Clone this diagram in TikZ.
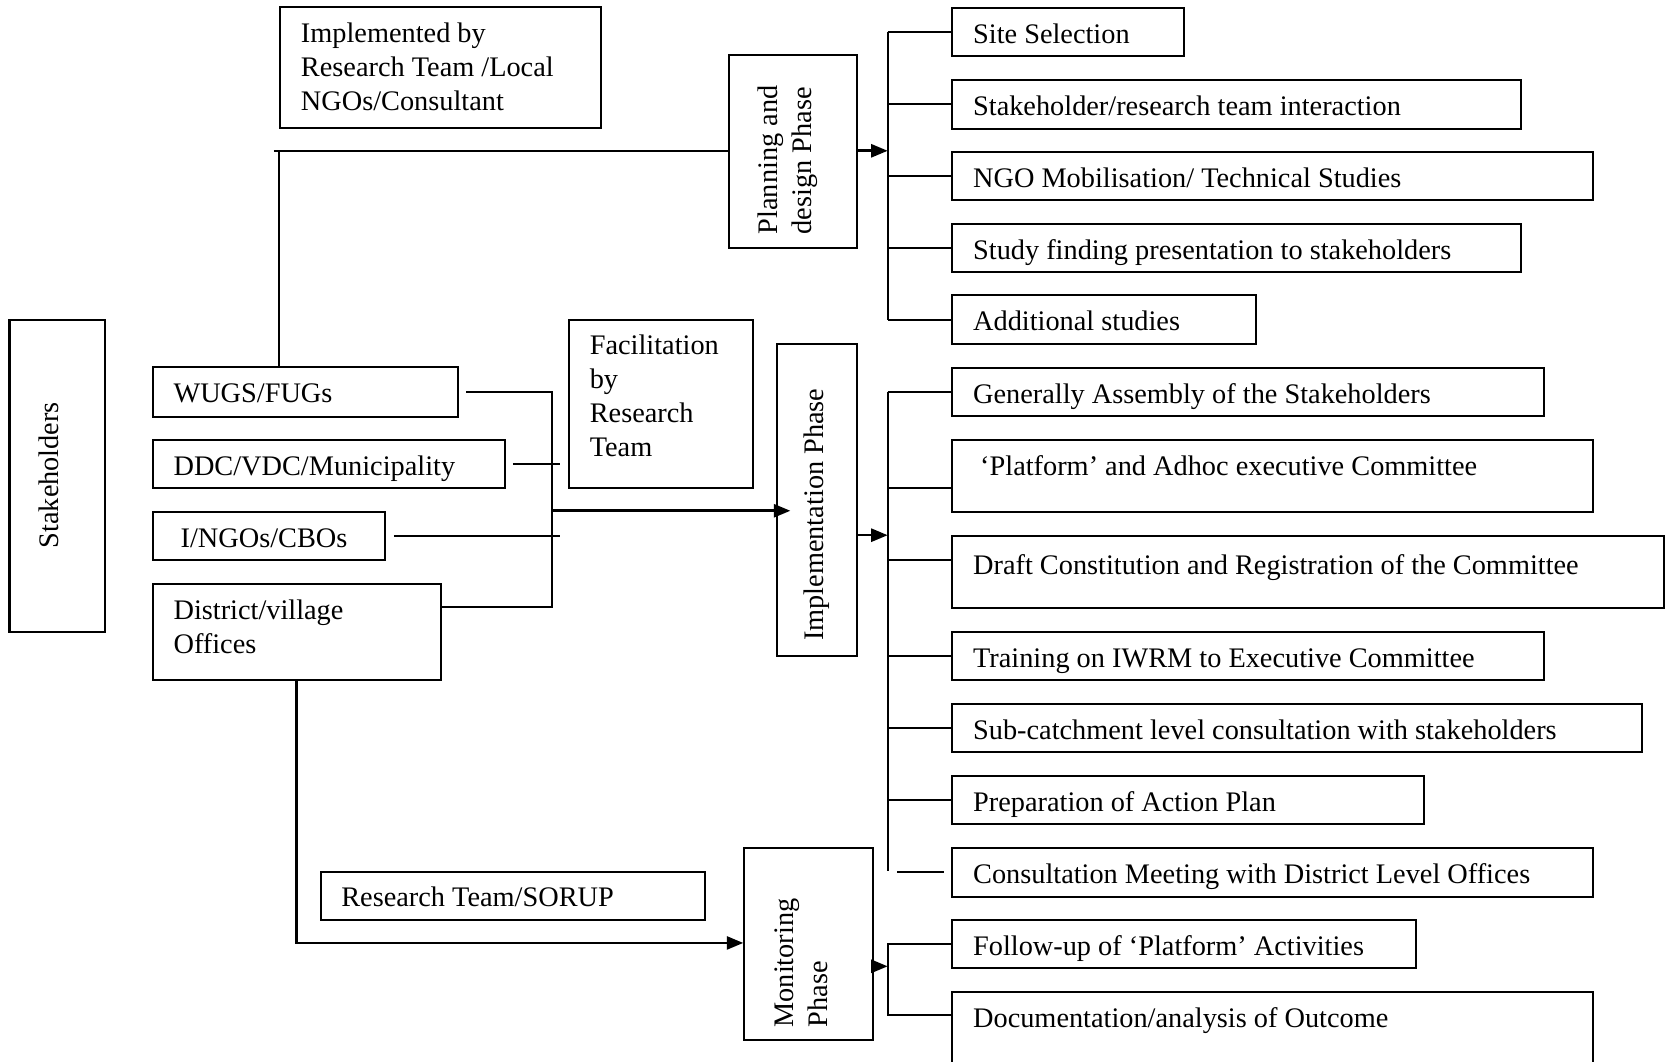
\documentclass[tikz,border=0pt]{standalone}
\usepackage{fontspec}
\setmainfont{Liberation Serif}
\usetikzlibrary{arrows.meta}
\newcommand\tf{\fontsize{12}{14.4}\selectfont}
\newcommand\mybox[5]{%
  \pgfmathsetmacro\bw{(#4-#2)*0.45}%
  \pgfmathsetmacro\bh{(#5-#3)*0.45}%
  \node[box, minimum width=\bw pt, minimum height=\bh pt] (#1) at (#2,#3) {};}
\newcommand\boxtext[3][0]{%
  \pgfmathsetmacro\dy{-(11.6+#1)*0.45}%
  \node[txt] (#2-t) at ([xshift=9pt, yshift=\dy pt]#2.north west) {#3};}
\begin{document}
\begin{tikzpicture}[x=0.45pt,y=-0.45pt,
  box/.style={draw, line width=0.85pt, inner sep=0pt, anchor=north west},
  txt/.style={anchor=north west, inner sep=0pt, align=left, font=\tf},
  vtxt/.style={rotate=90, inner sep=0pt, align=left, font=\tf},
  line/.style={line width=0.85pt},
  arr/.style={line width=1.1pt, -{Triangle[length=7pt,width=5.5pt]}}]
\useasboundingbox (0,0) rectangle (1568,1000);

% ---------- left column ----------
\mybox{impl-by}{263}{6}{565}{120}
\boxtext{impl-by}{\strut Implemented by\\\strut Research Team /Local\\\strut NGOs/Consultant}
\mybox{stk}{8}{300}{98}{594}
\node[vtxt] (stk-t) at (46,447.5) {Stakeholders};
\mybox{wugs}{143}{345}{430}{391.5}
\boxtext{wugs}{\strut WUGS/FUGs}
\mybox{ddc}{143}{413}{475}{458.6}
\boxtext{ddc}{\strut DDC/VDC/Municipality}
\mybox{ingo}{143}{481}{362}{526.7}
\boxtext{ingo}{\strut\ I/NGOs/CBOs}
\mybox{dist}{143}{548.7}{414}{639.4}
\boxtext{dist}{\strut District/village\\\strut Offices}
\mybox{fac}{535}{300}{708}{458.3}
\boxtext[-1]{fac}{\strut Facilitation\\\strut by\\\strut Research\\\strut Team}
\mybox{rts}{301}{820}{663}{865.7}
\boxtext[-1]{rts}{\strut Research Team/SORUP}

% ---------- phases ----------
\mybox{plan}{686}{51.2}{806}{232.3}
\node[vtxt, anchor=west] (plan-t) at (742,221) {Planning and\\design Phase};
\mybox{impl}{731}{322.7}{806}{616.8}
\node[vtxt, anchor=west] (impl-t) at (769,604) {Implementation Phase};
\mybox{mon}{700}{797.3}{821}{978.5}
\node[vtxt, anchor=west] (mon-t) at (755,968) {Monitoring\\Phase};

% ---------- right column ----------
\mybox{site}{896}{6.3}{1114}{51.8}
\boxtext{site}{\strut Site Selection}
\mybox{sti}{896}{74.4}{1431}{120.2}
\boxtext{sti}{\strut Stakeholder/research team interaction}
\mybox{ngo}{896}{142.2}{1499}{187.4}
\boxtext{ngo}{\strut NGO Mobilisation/ Technical Studies}
\mybox{study}{896}{209.7}{1431}{255.2}
\boxtext{study}{\strut Study finding presentation to stakeholders}
\mybox{add}{896}{277.2}{1182}{322.7}
\boxtext{add}{\strut Additional studies}
\mybox{gen}{896}{345.3}{1453}{390.8}
\boxtext{gen}{\strut Generally Assembly of the Stakeholders}
\mybox{plat}{896}{413.4}{1499}{481}
\boxtext{plat}{\strut\ ‘Platform’ and Adhoc executive Committee}
\mybox{draft}{896}{503.8}{1566}{571.3}
\boxtext[3]{draft}{\strut Draft Constitution and Registration of the Committee}
\mybox{train}{896}{593.9}{1453}{639.7}
\boxtext{train}{\strut Training on IWRM to Executive Committee}
\mybox{sub}{896}{661.7}{1545}{707.2}
\boxtext{sub}{\strut Sub-catchment level consultation with stakeholders}
\mybox{prep}{896}{729.8}{1340}{774.7}
\boxtext{prep}{\strut Preparation of Action Plan}
\mybox{cons}{896}{797.3}{1499}{843.5}
\boxtext{cons}{\strut Consultation Meeting with District Level Offices}
\mybox{fol}{896}{865.1}{1333}{910.3}
\boxtext{fol}{\strut Follow-up of ‘Platform’ Activities}
\mybox{doc}{896}{933.2}{1499}{1020}
\boxtext{doc}{\strut Documentation/analysis of Outcome}

% ---------- planning bracket ----------
\coordinate (pbus) at (836,142);
\draw[arr] (plan.east |- pbus) -- (pbus);
\draw[line] (pbus |- site.west) -- (pbus |- add.west);
\foreach \n in {site,sti,ngo,study,add}
  \draw[line] (pbus |- \n.west) -- (\n.west);

% ---------- implementation bracket ----------
\coordinate (ibus) at (836,504);
\coordinate (iend) at (836,820);
\draw[arr] (impl.east |- ibus) -- (ibus);
\draw[line] (ibus |- gen.west) -- (iend);
\foreach \n in {gen,train,sub,prep}
  \draw[line] (ibus |- \n.west) -- (\n.west);
\draw[line] ([yshift=-5.2pt]plat.west) -- ++(-60,0);
\draw[line] ([yshift=5pt]draft.west) -- ++(-60,0);
\draw[line] ([xshift=-3.2pt]cons.west) -- ++(-44,0);

% ---------- monitoring bracket ----------
\coordinate (mbus) at (836,910);
\draw[arr] (mon.east |- mbus) -- (mbus);
\draw[line] (fol.west) -- (mbus |- fol.west) -- ++(0,67) -- ++(60,0);

% ---------- left connectors ----------
\coordinate (j1) at (263,142);
\draw[line] (wugs.north -| j1) -- (j1);
\draw[line] ([xshift=-2.3pt]j1) -- (plan.west |- j1);

\coordinate (bus) at (520,481);
\coordinate (busr) at (527,481);
\coordinate (dj) at (520,571.3);
\draw[line] ([xshift=3.2pt]wugs.east) -- (bus |- wugs.east) -- (dj) -- (dist.east |- dj);
\draw[line] ([xshift=2.7pt]ddc.east) -- (busr |- ddc.east);
\draw[line] ([xshift=3.2pt]ingo.east) -- (busr |- ingo.east);
\draw[arr, shorten >=-6pt] (bus) -- (impl.west |- bus);

\coordinate (dm) at (279,888);
\draw[arr] (dist.south -| dm) -- (dm) -- (mon.west |- dm);
\end{tikzpicture}
\end{document}
